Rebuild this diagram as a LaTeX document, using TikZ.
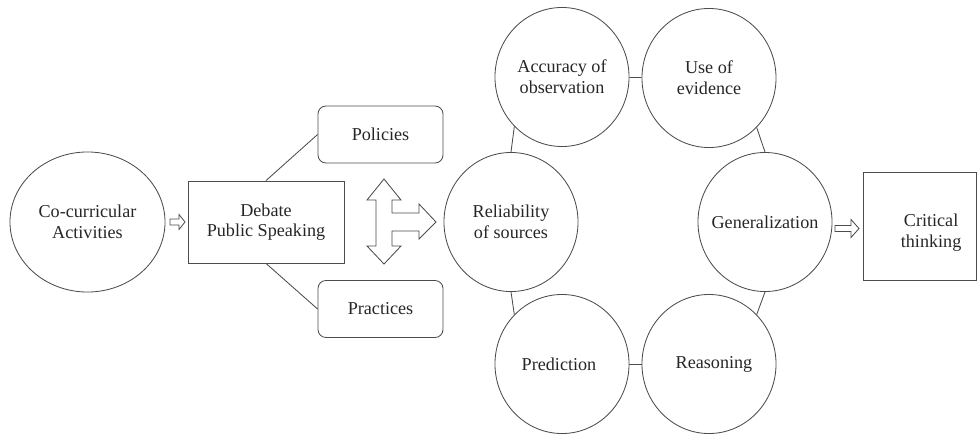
\documentclass[tikz,border=0pt]{standalone}
\usepackage{fontspec}
\setmainfont{Liberation Serif}
\usepackage{tikz}
\usetikzlibrary{shapes.geometric,calc}

\begin{document}
\begin{tikzpicture}[x=0.025cm,y=-0.025cm,
  font=\fontsize{12.9}{14.7}\selectfont, color=black!70, text=black!85, line width=0.6pt,
  ring/.style={draw, ellipse, minimum width=3.35cm, minimum height=3.475cm, inner sep=-0.3cm, align=center},
  plainbox/.style={draw, rectangle, align=center, inner sep=2pt},
  roundbox/.style={draw, rectangle, rounded corners=0.2cm, minimum width=3.125cm, minimum height=1.425cm},
  pointer/.style={fill=white}]
\useasboundingbox (0,0) rectangle (977,434);
% left part
\node[draw, ellipse, minimum width=3.875cm, minimum height=3.5cm, align=center] (co) at (87.5,222) {Co-curricular\\Activities};
\node[plainbox, minimum width=3.9cm, minimum height=2.05cm] (deb) at (266,222) {Debate\\Public Speaking};
\node[roundbox] (pol) at (380.5,134.5) {Policies};
\node[roundbox] (pra) at (380.5,309) {Practices};
\draw[pointer] ($(co.east)!0.5!(deb.west)$) ++(-6.5,-3) -- ++(9,0) -- ++(0,-4.5) -- ++(6,7.5) -- ++(-6,7.5) -- ++(0,-4.5) -- ++(-9,0) -- cycle;
\draw (deb.north) -- (pol.west);
\draw (deb.south) -- (pra.west);
% three-way arrow
\draw[pointer] (384,179) -- (401,200) -- (392,200) -- (392,213) -- (419,213) -- (419,204) -- (436,222) -- (419,239) -- (419,231) -- (392,231) -- (392,246) -- (401,246) -- (384,264) -- (367,246) -- (376,246) -- (376,200) -- (367,200) -- cycle;
% ring of skills
\node[ring] (rel) at (511,222) {Reliability\\of sources};
\node[ring] (acc) at (562,77) {Accuracy of\\observation};
\node[ring] (use) at (709,78) {Use of\\evidence};
\node[ring] (gen) at (765,222) {Generalization};
\node[ring] (rea) at (709,364) {\hspace*{0.25cm}Reasoning};
\node[ring] (pre) at (562,364) {Prediction\hspace*{0.15cm}};
\draw (acc) -- (use);
\draw (pre) -- (rea);
\draw (rel.north) -- (acc.south west);
\draw (use.south east) -- (gen.north);
\draw (gen.south) -- (rea.north east);
\draw (rel.south) -- (pre.north west);
% result
\node[plainbox, minimum width=2.825cm, minimum height=2.7cm, label={[align=center, xshift=0.29cm, yshift=-0.17cm]center:Critical\\thinking}] (crit) at (919.5,226) {};
\draw[pointer] ($(gen.east)!0.5!(crit.west)$) ++(-12.5,1.5) -- ++(16,0) -- ++(0,-6) -- ++(8,9) -- ++(-8,9) -- ++(0,-6) -- ++(-16,0) -- cycle;
\end{tikzpicture}
\end{document}
